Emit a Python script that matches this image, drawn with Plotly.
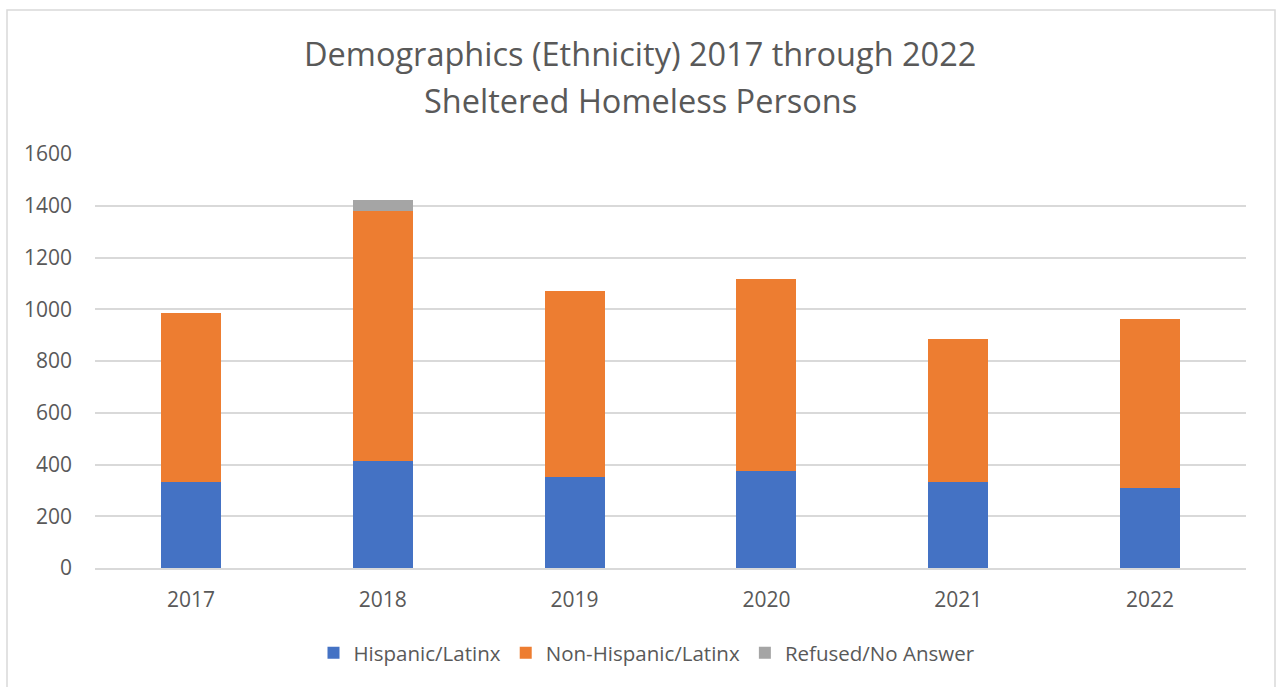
import plotly.graph_objects as go

# Sheltered homeless persons by ethnicity, 2017-2022
years = ["2017", "2018", "2019", "2020", "2021", "2022"]
hispanic = [334, 414, 353, 373, 332, 311]
non_hispanic = [651, 967, 717, 744, 552, 652]
refused = [0, 42, 0, 0, 0, 0]

series_names = ["Hispanic/Latinx", "Non-Hispanic/Latinx", "Refused/No Answer"]
series_colors = ["#4472C4", "#ED7D31", "#A5A5A5"]
y_ticks = [0, 200, 400, 600, 800, 1000, 1200, 1400, 1600]

title_lines = ["Demographics (Ethnicity) 2017 through 2022", "Sheltered Homeless Persons"]

W, H = 1276, 687
ML, MR, MT, MB = 95, 30, 154, 119
FONT = "Open Sans"
GREY = "#595959"

fig = go.Figure()
for name, vals, col in zip(series_names, [hispanic, non_hispanic, refused], series_colors):
    fig.add_trace(go.Bar(x=years, y=vals, name=name, marker=dict(color=col, line=dict(width=0))))

pw = W - ML - MR
ph = H - MT - MB


def px_to_paper(px, py):
    return (px - ML) / pw, (H - MB - py) / ph


# chart frame
x0, y0 = px_to_paper(7, 690)
x1, y1 = px_to_paper(1275, 10)
fig.add_shape(type="rect", xref="paper", yref="paper", x0=x0, y0=y0, x1=x1, y1=y1,
              line=dict(color="#D9D9D9", width=1.5), fillcolor="rgba(0,0,0,0)", layer="below")

# two-line title
for line, py in zip(title_lines, [53, 100]):
    tx, ty = px_to_paper(640, py)
    fig.add_annotation(text=line, xref="paper", yref="paper", x=tx, y=ty,
                       xanchor="center", yanchor="middle", showarrow=False,
                       font=dict(family=FONT, size=32.5, color=GREY))

lx, ly = px_to_paper(647, 653)
fig.update_layout(
    width=W, height=H,
    margin=dict(l=ML, r=MR, t=MT, b=MB),
    barmode="stack",
    bargap=0.687,
    plot_bgcolor="white",
    paper_bgcolor="white",
    font=dict(family=FONT, color=GREY),
    showlegend=True,
    legend=dict(orientation="h", x=lx, xanchor="center", y=ly, yanchor="middle",
                font=dict(family=FONT, size=20.5, color=GREY), traceorder="normal",
                itemwidth=30, bgcolor="rgba(0,0,0,0)"),
)
fig.update_xaxes(showgrid=False, showline=True, linecolor="#D9D9D9", linewidth=1.5,
                 ticks="", tickfont=dict(family=FONT, size=21, color=GREY), ticklabelstandoff=12)
fig.update_yaxes(range=[0, 1600], tickvals=y_ticks, showgrid=True, gridcolor="#D9D9D9", gridwidth=1.5,
                 zeroline=False, showline=False, ticks="",
                 tickfont=dict(family=FONT, size=21, color=GREY), ticklabelstandoff=22)

fig.write_html("out.html")
